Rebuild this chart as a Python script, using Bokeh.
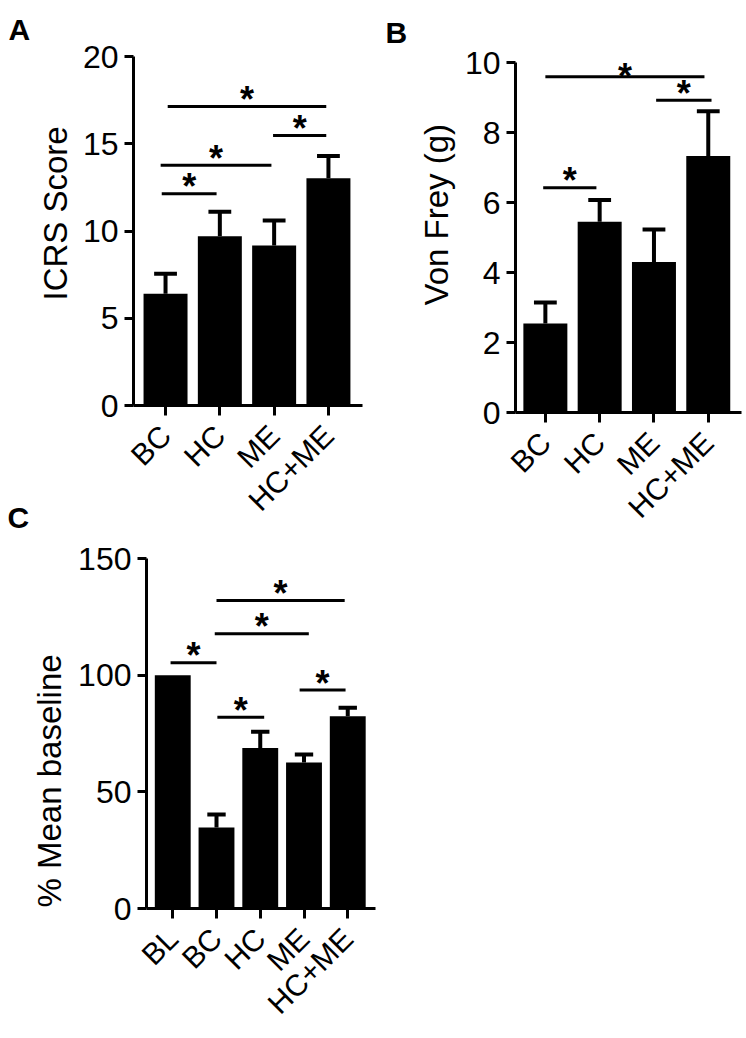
import math
from bokeh.plotting import figure
from bokeh.layouts import column, row
from bokeh.models import FixedTicker, Label, Range1d, Title
from bokeh.embed import file_html
from bokeh.resources import INLINE

FONT = "Liberation Sans"

# ---------------- data ----------------
# Panel A
a_groups = ["BC", "HC", "ME", "HC+ME"]
a_means = [6.4, 9.7, 9.17, 13.03]
a_sem = [1.15, 1.4, 1.43, 1.27]
a_ticks = [0, 5, 10, 15, 20]
a_sig_x0 = [-0.07, -0.09, 1.98, 0.04]
a_sig_x1 = [0.94, 1.95, 2.96, 2.96]
a_sig_y = [12.13, 13.77, 15.47, 17.13]

# Panel B
b_groups = ["BC", "HC", "ME", "HC+ME"]
b_means = [2.54, 5.45, 4.3, 7.33]
b_sem = [0.6, 0.62, 0.93, 1.28]
b_ticks = [0, 2, 4, 6, 8, 10]
b_sig_x0 = [-0.04, 2.04, 0.0]
b_sig_x1 = [0.94, 3.06, 2.93]
b_sig_y = [6.42, 8.92, 9.59]

# Panel C
c_groups = ["BL", "BC", "HC", "ME", "HC+ME"]
c_means = [100, 34.7, 68.8, 62.6, 82.4]
c_sem = [0, 5.6, 6.9, 3.4, 3.6]
c_ticks = [0, 50, 100, 150]
c_sig_x0 = [-0.05, 1.02, 0.96, 1.0, 2.9]
c_sig_x1 = [1.0, 2.09, 3.11, 3.93, 3.95]
c_sig_y = [105.3, 82, 117.7, 132, 93.6]


def letter(text, offset, standoff, valign):
    return Title(text=text, align="left", offset=offset, standoff=standoff,
                 vertical_align=valign, text_font=FONT, text_font_size="30px",
                 text_font_style="bold", text_color="black")


def ylabel_title(text, offset, standoff):
    return Title(text=text, align="left", offset=offset, standoff=standoff,
                 vertical_align="bottom", text_font=FONT,
                 text_font_size="33px", text_font_style="normal",
                 text_color="black")


def make_panel(groups, means, sem, ticks, ylabel, sig_x0, sig_x1, sig_y,
               x_start, px_per_unit, frame_w, frame_h,
               mbl, mbt, mbr, mbb, bar_w, title):
    ymax = ticks[-1]
    x_end = x_start + frame_w / px_per_unit
    p = figure(frame_width=frame_w, frame_height=frame_h,
               x_range=Range1d(x_start, x_end), y_range=Range1d(0, ymax),
               min_border_left=mbl, min_border_top=mbt,
               min_border_right=mbr, min_border_bottom=mbb,
               output_backend="svg", toolbar_location=None,
               background_fill_color="white", border_fill_color="white",
               title=title)
    try:
        p.frame_align = False
    except Exception:
        pass
    p.outline_line_color = None
    p.grid.visible = False

    xs = list(range(len(groups)))
    p.vbar(x=xs, top=means, width=bar_w, bottom=0,
           fill_color="black", line_color=None)

    # error bars (upper only)
    ex, e0, e1, cx0, cx1, cy = [], [], [], [], [], []
    for i, (m, s) in enumerate(zip(means, sem)):
        if s > 0:
            ex.append(i); e0.append(m); e1.append(m + s)
            cx0.append(i - 0.21); cx1.append(i + 0.21); cy.append(m + s)
    p.segment(x0=ex, y0=e0, x1=ex, y1=e1, line_color="black", line_width=4)
    p.segment(x0=cx0, y0=cy, x1=cx1, y1=cy, line_color="black", line_width=4)

    # significance lines and stars
    p.segment(x0=sig_x0, y0=sig_y, x1=sig_x1, y1=sig_y,
              line_color="black", line_width=3)
    sy = frame_h / ymax
    for a, b, y in zip(sig_x0, sig_x1, sig_y):
        ys = min(y + 7.0 / sy, ymax - 14.0 / sy)
        p.add_layout(Label(x=(a + b) / 2, y=ys, text="*",
                           text_align="center", text_baseline="alphabetic",
                           text_font=FONT, text_font_size="36px",
                           text_font_style="bold", text_color="black"))

    # axes
    for ax in (p.xaxis[0], p.yaxis[0]):
        ax.axis_line_width = 3
        ax.axis_line_color = "black"
        ax.major_tick_line_width = 3
        ax.major_tick_line_color = "black"
        ax.major_tick_in = 0
        ax.minor_tick_line_color = None
        ax.major_label_text_font = FONT
        ax.major_label_text_color = "black"
    p.yaxis.major_label_standoff = 6
    p.xaxis.major_label_standoff = 15
    p.xaxis.major_label_text_font_size = "30px"
    p.yaxis.major_label_text_font_size = "32px"
    p.xaxis.major_tick_out = 10
    p.yaxis.major_tick_out = 9
    p.xaxis.ticker = FixedTicker(ticks=xs)
    p.xaxis.major_label_overrides = {i: g for i, g in enumerate(groups)}
    p.xaxis.major_label_orientation = math.pi / 4
    p.yaxis.ticker = FixedTicker(ticks=ticks)
    p.add_layout(ylabel, "left")
    return p


TOP_H = 540
pA = make_panel(a_groups, a_means, a_sem, a_ticks,
                ylabel_title("ICRS Score", 105, 11),
                a_sig_x0, a_sig_x1, a_sig_y,
                -0.59, 54.3, 229, 349, 133, 56, 11, TOP_H - 56 - 349, 0.81,
                letter("A", -125, 17, "top"))
pA.add_layout(letter("C", -126, -61, "top"), "below")

pB = make_panel(b_groups, b_means, b_sem, b_ticks,
                ylabel_title("Von Frey (g)", 107, 13),
                b_sig_x0, b_sig_x1, b_sig_y,
                -0.55, 54.3, 226, 350, 142, 62, 5, TOP_H - 62 - 350, 0.81,
                letter("B", -130, 23, "top"))

pC = make_panel(c_groups, c_means, c_sem, c_ticks,
                ylabel_title("% Mean baseline", 1, 15),
                c_sig_x0, c_sig_x1, c_sig_y,
                -0.6, 43.75, 229, 350, 146, 558 - TOP_H, 10,
                1038 - 558 - 350, 0.82, None)

layout = column(row(pA, pB, spacing=0), pC, spacing=0)
open("out.html", "w").write(file_html(layout, INLINE))
